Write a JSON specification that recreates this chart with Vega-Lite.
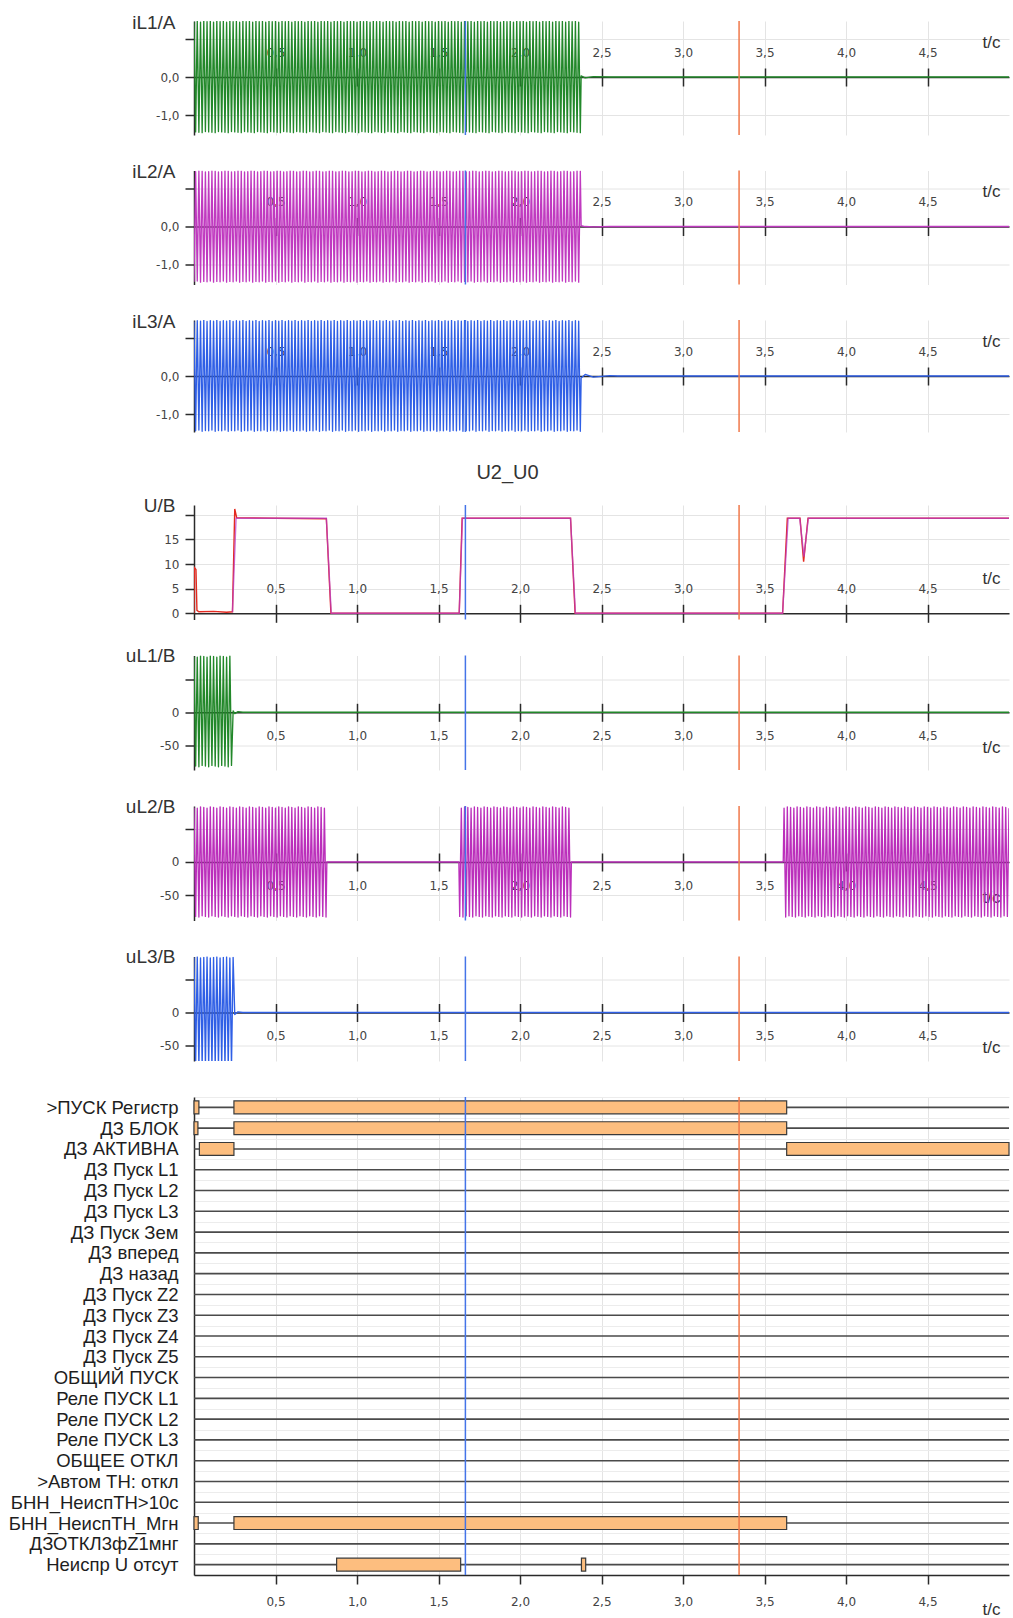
{
"$schema": "https://vega.github.io/schema/vega-lite/v6.json",
"padding": {"left": 8, "top": 13, "right": 4, "bottom": 5},
"bounds": "flush",
"spacing": 35.5,
"resolve": {"scale": {"x": "independent", "y": "independent"}},
"config": {
 "view": {"stroke": null},
 "font": "Liberation Sans",
 "axis": {"labelFont": "DejaVu Sans", "labelFontSize": 12, "labelColor": "#444", "titleFont": "Liberation Sans", "titleFontSize": 17, "titleFontWeight": "normal", "titleColor": "#333", "gridColor": "#e4e4e4", "gridWidth": 1, "domainColor": "#2a2a2a", "tickColor": "#2a2a2a", "domainWidth": 1.5, "tickWidth": 1.5, "labelOverlap": false, "labelBound": false, "labelFlush": false},
 "title": {"font": "Liberation Sans", "fontSize": 20, "fontWeight": "normal", "color": "#333"}
},
"datasets": {
 "cursors": [{"c": "T1", "t": 1.665}, {"c": "T2", "t": 3.344}],
 "sig": [{"s": ">ПУСК Регистр"}, {"s": "ДЗ БЛОК"}, {"s": "ДЗ АКТИВНА"}, {"s": "ДЗ Пуск L1"}, {"s": "ДЗ Пуск L2"}, {"s": "ДЗ Пуск L3"}, {"s": "ДЗ Пуск Зем"}, {"s": "ДЗ вперед"}, {"s": "ДЗ назад"}, {"s": "ДЗ Пуск Z2"}, {"s": "ДЗ Пуск Z3"}, {"s": "ДЗ Пуск Z4"}, {"s": "ДЗ Пуск Z5"}, {"s": "ОБЩИЙ ПУСК"}, {"s": "Реле ПУСК L1"}, {"s": "Реле ПУСК L2"}, {"s": "Реле ПУСК L3"}, {"s": "ОБЩЕЕ ОТКЛ"}, {"s": ">Автом ТН: откл"}, {"s": "БНН_НеиспТН>10с"}, {"s": "БНН_НеиспТН_Мгн"}, {"s": "ДЗОТКЛ3фZ1мнг"}, {"s": "Неиспр U отсут"}],
 "act": [{"s": ">ПУСК Регистр", "t0": 0, "t1": 0.03}, {"s": ">ПУСК Регистр", "t0": 0.245, "t1": 3.636}, {"s": "ДЗ БЛОК", "t0": 0, "t1": 0.024}, {"s": "ДЗ БЛОК", "t0": 0.245, "t1": 3.636}, {"s": "ДЗ АКТИВНА", "t0": 0.033, "t1": 0.245}, {"s": "ДЗ АКТИВНА", "t0": 3.636, "t1": 5}, {"s": "БНН_НеиспТН_Мгн", "t0": 0, "t1": 0.026}, {"s": "БНН_НеиспТН_Мгн", "t0": 0.245, "t1": 3.636}, {"s": "Неиспр U отсут", "t0": 0.875, "t1": 1.636}, {"s": "Неиспр U отсут", "t0": 2.377, "t1": 2.403}],
 "uu2": [{"t":0,"v":0},{"t":0.002,"v":9.3},{"t":0.012,"v":8.9},{"t":0.018,"v":0.6},{"t":0.03,"v":0.3},{"t":0.12,"v":0.4},{"t":0.2,"v":0.2},{"t":0.236,"v":0.3},{"t":0.25,"v":21.2},{"t":0.262,"v":19.4},{"t":0.5,"v":19.3},{"t":0.812,"v":19.2},{"t":0.84,"v":0},{"t":1.627,"v":0},{"t":1.645,"v":19.3},{"t":2.31,"v":19.3},{"t":2.338,"v":0},{"t":3.611,"v":0},{"t":3.64,"v":19.3},{"t":3.718,"v":19.3},{"t":3.74,"v":10.5},{"t":3.767,"v":19.3},{"t":5,"v":19.3}],
 "uu0": [{"t":0.236,"v":0.2},{"t":0.258,"v":19.3},{"t":0.812,"v":19.3},{"t":0.842,"v":0},{"t":1.627,"v":0},{"t":1.647,"v":19.3},{"t":2.31,"v":19.3},{"t":2.34,"v":0},{"t":3.611,"v":0},{"t":3.645,"v":19.3},{"t":3.716,"v":19.3},{"t":3.742,"v":11.5},{"t":3.769,"v":19.3},{"t":5,"v":19.3}],
 "ul13": [{"t":0.00,"a":84,"c":83},{"t":0.01,"a":-81,"c":-80},{"t":0.02,"a":83,"c":84},{"t":0.03,"a":-82,"c":-81},{"t":0.04,"a":85,"c":82},{"t":0.05,"a":-80,"c":-80},{"t":0.06,"a":84,"c":83},{"t":0.07,"a":-81,"c":-81},{"t":0.08,"a":83,"c":84},{"t":0.09,"a":-82,"c":-80},{"t":0.10,"a":85,"c":82},{"t":0.11,"a":-80,"c":-81},{"t":0.12,"a":84,"c":83},{"t":0.13,"a":-81,"c":-80},{"t":0.14,"a":83,"c":84},{"t":0.15,"a":-82,"c":-81},{"t":0.16,"a":85,"c":82},{"t":0.17,"a":-80,"c":-80},{"t":0.18,"a":84,"c":83},{"t":0.19,"a":-81,"c":-81},{"t":0.20,"a":83,"c":84},{"t":0.21,"a":-82,"c":-80},{"t":0.22,"a":85,"c":82},{"t":0.23,"a":-80,"c":-81},{"t":0.24,"a":2,"c":83},{"t":0.25,"a":-2,"c":-3},{"t":0.27,"a":1,"c":1},{"t":0.30,"a":0,"c":0},{"t":5,"a":0,"c":0}],
 "ul2": [{"t":0.00,"v":82},{"t":0.01,"v":-82},{"t":0.02,"v":81},{"t":0.03,"v":-83},{"t":0.04,"v":83},{"t":0.05,"v":-81},{"t":0.06,"v":82},{"t":0.07,"v":-82},{"t":0.08,"v":81},{"t":0.09,"v":-83},{"t":0.10,"v":83},{"t":0.11,"v":-81},{"t":0.12,"v":82},{"t":0.13,"v":-82},{"t":0.14,"v":81},{"t":0.15,"v":-83},{"t":0.16,"v":83},{"t":0.17,"v":-81},{"t":0.18,"v":82},{"t":0.19,"v":-82},{"t":0.20,"v":81},{"t":0.21,"v":-83},{"t":0.22,"v":83},{"t":0.23,"v":-81},{"t":0.24,"v":82},{"t":0.25,"v":-82},{"t":0.26,"v":81},{"t":0.27,"v":-83},{"t":0.28,"v":83},{"t":0.29,"v":-81},{"t":0.30,"v":82},{"t":0.31,"v":-82},{"t":0.32,"v":81},{"t":0.33,"v":-83},{"t":0.34,"v":83},{"t":0.35,"v":-81},{"t":0.36,"v":82},{"t":0.37,"v":-82},{"t":0.38,"v":81},{"t":0.39,"v":-83},{"t":0.40,"v":83},{"t":0.41,"v":-81},{"t":0.42,"v":82},{"t":0.43,"v":-82},{"t":0.44,"v":81},{"t":0.45,"v":-83},{"t":0.46,"v":83},{"t":0.47,"v":-81},{"t":0.48,"v":82},{"t":0.49,"v":-82},{"t":0.50,"v":81},{"t":0.51,"v":-83},{"t":0.52,"v":83},{"t":0.53,"v":-81},{"t":0.54,"v":82},{"t":0.55,"v":-82},{"t":0.56,"v":81},{"t":0.57,"v":-83},{"t":0.58,"v":83},{"t":0.59,"v":-81},{"t":0.60,"v":82},{"t":0.61,"v":-82},{"t":0.62,"v":81},{"t":0.63,"v":-83},{"t":0.64,"v":83},{"t":0.65,"v":-81},{"t":0.66,"v":82},{"t":0.67,"v":-82},{"t":0.68,"v":81},{"t":0.69,"v":-83},{"t":0.70,"v":83},{"t":0.71,"v":-81},{"t":0.72,"v":82},{"t":0.73,"v":-82},{"t":0.74,"v":81},{"t":0.75,"v":-83},{"t":0.76,"v":83},{"t":0.77,"v":-81},{"t":0.78,"v":82},{"t":0.79,"v":-82},{"t":0.80,"v":81},{"t":0.81,"v":-83},{"t":0.815,"v":0},{"t":1.625,"v":0},
 {"t":1.63,"v":-82},{"t":1.64,"v":81},{"t":1.65,"v":-83},{"t":1.66,"v":83},{"t":1.67,"v":-81},{"t":1.68,"v":82},{"t":1.69,"v":-82},{"t":1.70,"v":81},{"t":1.71,"v":-83},{"t":1.72,"v":83},{"t":1.73,"v":-81},{"t":1.74,"v":82},{"t":1.75,"v":-82},{"t":1.76,"v":81},{"t":1.77,"v":-83},{"t":1.78,"v":83},{"t":1.79,"v":-81},{"t":1.80,"v":82},{"t":1.81,"v":-82},{"t":1.82,"v":81},{"t":1.83,"v":-83},{"t":1.84,"v":83},{"t":1.85,"v":-81},{"t":1.86,"v":82},{"t":1.87,"v":-82},{"t":1.88,"v":81},{"t":1.89,"v":-83},{"t":1.90,"v":83},{"t":1.91,"v":-81},{"t":1.92,"v":82},{"t":1.93,"v":-82},{"t":1.94,"v":81},{"t":1.95,"v":-83},{"t":1.96,"v":83},{"t":1.97,"v":-81},{"t":1.98,"v":82},{"t":1.99,"v":-82},{"t":2.00,"v":81},{"t":2.01,"v":-83},{"t":2.02,"v":83},{"t":2.03,"v":-81},{"t":2.04,"v":82},{"t":2.05,"v":-82},{"t":2.06,"v":81},{"t":2.07,"v":-83},{"t":2.08,"v":83},{"t":2.09,"v":-81},{"t":2.10,"v":82},{"t":2.11,"v":-82},{"t":2.12,"v":81},{"t":2.13,"v":-83},{"t":2.14,"v":83},{"t":2.15,"v":-81},{"t":2.16,"v":82},{"t":2.17,"v":-82},{"t":2.18,"v":81},{"t":2.19,"v":-83},{"t":2.20,"v":83},{"t":2.21,"v":-81},{"t":2.22,"v":82},{"t":2.23,"v":-82},{"t":2.24,"v":81},{"t":2.25,"v":-83},{"t":2.26,"v":83},{"t":2.27,"v":-81},{"t":2.28,"v":82},{"t":2.29,"v":-82},{"t":2.30,"v":81},{"t":2.31,"v":-83},{"t":2.315,"v":0},{"t":3.615,"v":0},
 {"t":3.62,"v":81},{"t":3.63,"v":-83},{"t":3.64,"v":83},{"t":3.65,"v":-81},{"t":3.66,"v":82},{"t":3.67,"v":-82},{"t":3.68,"v":81},{"t":3.69,"v":-83},{"t":3.70,"v":83},{"t":3.71,"v":-81},{"t":3.72,"v":82},{"t":3.73,"v":-82},{"t":3.74,"v":81},{"t":3.75,"v":-83},{"t":3.76,"v":83},{"t":3.77,"v":-81},{"t":3.78,"v":82},{"t":3.79,"v":-82},{"t":3.80,"v":81},{"t":3.81,"v":-83},{"t":3.82,"v":83},{"t":3.83,"v":-81},{"t":3.84,"v":82},{"t":3.85,"v":-82},{"t":3.86,"v":81},{"t":3.87,"v":-83},{"t":3.88,"v":83},{"t":3.89,"v":-81},{"t":3.90,"v":82},{"t":3.91,"v":-82},{"t":3.92,"v":81},{"t":3.93,"v":-83},{"t":3.94,"v":83},{"t":3.95,"v":-81},{"t":3.96,"v":82},{"t":3.97,"v":-82},{"t":3.98,"v":81},{"t":3.99,"v":-83},{"t":4.00,"v":83},{"t":4.01,"v":-81},{"t":4.02,"v":82},{"t":4.03,"v":-82},{"t":4.04,"v":81},{"t":4.05,"v":-83},{"t":4.06,"v":83},{"t":4.07,"v":-81},{"t":4.08,"v":82},{"t":4.09,"v":-82},{"t":4.10,"v":81},{"t":4.11,"v":-83},{"t":4.12,"v":83},{"t":4.13,"v":-81},{"t":4.14,"v":82},{"t":4.15,"v":-82},{"t":4.16,"v":81},{"t":4.17,"v":-83},{"t":4.18,"v":83},{"t":4.19,"v":-81},{"t":4.20,"v":82},{"t":4.21,"v":-82},{"t":4.22,"v":81},{"t":4.23,"v":-83},{"t":4.24,"v":83},{"t":4.25,"v":-81},{"t":4.26,"v":82},{"t":4.27,"v":-82},{"t":4.28,"v":81},{"t":4.29,"v":-83},{"t":4.30,"v":83},{"t":4.31,"v":-81},{"t":4.32,"v":82},{"t":4.33,"v":-82},{"t":4.34,"v":81},{"t":4.35,"v":-83},{"t":4.36,"v":83},{"t":4.37,"v":-81},{"t":4.38,"v":82},{"t":4.39,"v":-82},{"t":4.40,"v":81},{"t":4.41,"v":-83},{"t":4.42,"v":83},{"t":4.43,"v":-81},{"t":4.44,"v":82},{"t":4.45,"v":-82},{"t":4.46,"v":81},{"t":4.47,"v":-83},{"t":4.48,"v":83},{"t":4.49,"v":-81},{"t":4.50,"v":82},{"t":4.51,"v":-82},{"t":4.52,"v":81},{"t":4.53,"v":-83},{"t":4.54,"v":83},{"t":4.55,"v":-81},{"t":4.56,"v":82},{"t":4.57,"v":-82},{"t":4.58,"v":81},{"t":4.59,"v":-83},{"t":4.60,"v":83},{"t":4.61,"v":-81},{"t":4.62,"v":82},{"t":4.63,"v":-82},{"t":4.64,"v":81},{"t":4.65,"v":-83},{"t":4.66,"v":83},{"t":4.67,"v":-81},{"t":4.68,"v":82},{"t":4.69,"v":-82},{"t":4.70,"v":81},{"t":4.71,"v":-83},{"t":4.72,"v":83},{"t":4.73,"v":-81},{"t":4.74,"v":82},{"t":4.75,"v":-82},{"t":4.76,"v":81},{"t":4.77,"v":-83},{"t":4.78,"v":83},{"t":4.79,"v":-81},{"t":4.80,"v":82},{"t":4.81,"v":-82},{"t":4.82,"v":81},{"t":4.83,"v":-83},{"t":4.84,"v":83},{"t":4.85,"v":-81},{"t":4.86,"v":82},{"t":4.87,"v":-82},{"t":4.88,"v":81},{"t":4.89,"v":-83},{"t":4.90,"v":83},{"t":4.91,"v":-81},{"t":4.92,"v":82},{"t":4.93,"v":-82},{"t":4.94,"v":81},{"t":4.95,"v":-83},{"t":4.96,"v":83},{"t":4.97,"v":-81},{"t":4.98,"v":82},{"t":4.99,"v":-82},{"t":5.00,"v":81}],
 "cur": [
{"t":0.00,"a":1.44,"b":-1.44,"c":1.42},{"t":0.01,"a":-1.43,"b":1.43,"c":-1.43},{"t":0.02,"a":1.45,"b":-1.42,"c":1.44},{"t":0.03,"a":-1.44,"b":1.45,"c":-1.41},{"t":0.04,"a":1.43,"b":-1.45,"c":1.43},{"t":0.05,"a":-1.45,"b":1.44,"c":-1.44},{"t":0.06,"a":1.46,"b":-1.43,"c":1.45},{"t":0.07,"a":-1.42,"b":1.42,"c":-1.42},
{"t":0.08,"a":1.44,"b":-1.44,"c":1.42},{"t":0.09,"a":-1.43,"b":1.43,"c":-1.43},{"t":0.10,"a":1.45,"b":-1.42,"c":1.44},{"t":0.11,"a":-1.44,"b":1.45,"c":-1.41},{"t":0.12,"a":1.43,"b":-1.45,"c":1.43},{"t":0.13,"a":-1.45,"b":1.44,"c":-1.44},{"t":0.14,"a":1.46,"b":-1.43,"c":1.45},{"t":0.15,"a":-1.42,"b":1.42,"c":-1.42},
{"t":0.16,"a":1.44,"b":-1.44,"c":1.42},{"t":0.17,"a":-1.43,"b":1.43,"c":-1.43},{"t":0.18,"a":1.45,"b":-1.42,"c":1.44},{"t":0.19,"a":-1.44,"b":1.45,"c":-1.41},{"t":0.20,"a":1.43,"b":-1.45,"c":1.43},{"t":0.21,"a":-1.45,"b":1.44,"c":-1.44},{"t":0.22,"a":1.46,"b":-1.43,"c":1.45},{"t":0.23,"a":-1.42,"b":1.42,"c":-1.42},
{"t":0.24,"a":1.44,"b":-1.44,"c":1.42},{"t":0.25,"a":-1.43,"b":1.43,"c":-1.43},{"t":0.26,"a":1.45,"b":-1.42,"c":1.44},{"t":0.27,"a":-1.44,"b":1.45,"c":-1.41},{"t":0.28,"a":1.43,"b":-1.45,"c":1.43},{"t":0.29,"a":-1.45,"b":1.44,"c":-1.44},{"t":0.30,"a":1.46,"b":-1.43,"c":1.45},{"t":0.31,"a":-1.42,"b":1.42,"c":-1.42},
{"t":0.32,"a":1.44,"b":-1.44,"c":1.42},{"t":0.33,"a":-1.43,"b":1.43,"c":-1.43},{"t":0.34,"a":1.45,"b":-1.42,"c":1.44},{"t":0.35,"a":-1.44,"b":1.45,"c":-1.41},{"t":0.36,"a":1.43,"b":-1.45,"c":1.43},{"t":0.37,"a":-1.45,"b":1.44,"c":-1.44},{"t":0.38,"a":1.46,"b":-1.43,"c":1.45},{"t":0.39,"a":-1.42,"b":1.42,"c":-1.42},
{"t":0.40,"a":1.44,"b":-1.44,"c":1.42},{"t":0.41,"a":-1.43,"b":1.43,"c":-1.43},{"t":0.42,"a":1.45,"b":-1.42,"c":1.44},{"t":0.43,"a":-1.44,"b":1.45,"c":-1.41},{"t":0.44,"a":1.43,"b":-1.45,"c":1.43},{"t":0.45,"a":-1.45,"b":1.44,"c":-1.44},{"t":0.46,"a":1.46,"b":-1.43,"c":1.45},{"t":0.47,"a":-1.42,"b":1.42,"c":-1.42},
{"t":0.48,"a":1.44,"b":-1.44,"c":1.42},{"t":0.49,"a":-1.43,"b":1.43,"c":-1.43},{"t":0.50,"a":1.45,"b":-1.42,"c":1.44},{"t":0.51,"a":-1.44,"b":1.45,"c":-1.41},{"t":0.52,"a":1.43,"b":-1.45,"c":1.43},{"t":0.53,"a":-1.45,"b":1.44,"c":-1.44},{"t":0.54,"a":1.46,"b":-1.43,"c":1.45},{"t":0.55,"a":-1.42,"b":1.42,"c":-1.42},
{"t":0.56,"a":1.44,"b":-1.44,"c":1.42},{"t":0.57,"a":-1.43,"b":1.43,"c":-1.43},{"t":0.58,"a":1.45,"b":-1.42,"c":1.44},{"t":0.59,"a":-1.44,"b":1.45,"c":-1.41},{"t":0.60,"a":1.43,"b":-1.45,"c":1.43},{"t":0.61,"a":-1.45,"b":1.44,"c":-1.44},{"t":0.62,"a":1.46,"b":-1.43,"c":1.45},{"t":0.63,"a":-1.42,"b":1.42,"c":-1.42},
{"t":0.64,"a":1.44,"b":-1.44,"c":1.42},{"t":0.65,"a":-1.43,"b":1.43,"c":-1.43},{"t":0.66,"a":1.45,"b":-1.42,"c":1.44},{"t":0.67,"a":-1.44,"b":1.45,"c":-1.41},{"t":0.68,"a":1.43,"b":-1.45,"c":1.43},{"t":0.69,"a":-1.45,"b":1.44,"c":-1.44},{"t":0.70,"a":1.46,"b":-1.43,"c":1.45},{"t":0.71,"a":-1.42,"b":1.42,"c":-1.42},
{"t":0.72,"a":1.44,"b":-1.44,"c":1.42},{"t":0.73,"a":-1.43,"b":1.43,"c":-1.43},{"t":0.74,"a":1.45,"b":-1.42,"c":1.44},{"t":0.75,"a":-1.44,"b":1.45,"c":-1.41},{"t":0.76,"a":1.43,"b":-1.45,"c":1.43},{"t":0.77,"a":-1.45,"b":1.44,"c":-1.44},{"t":0.78,"a":1.46,"b":-1.43,"c":1.45},{"t":0.79,"a":-1.42,"b":1.42,"c":-1.42},
{"t":0.80,"a":1.44,"b":-1.44,"c":1.42},{"t":0.81,"a":-1.43,"b":1.43,"c":-1.43},{"t":0.82,"a":1.45,"b":-1.42,"c":1.44},{"t":0.83,"a":-1.44,"b":1.45,"c":-1.41},{"t":0.84,"a":1.43,"b":-1.45,"c":1.43},{"t":0.85,"a":-1.45,"b":1.44,"c":-1.44},{"t":0.86,"a":1.46,"b":-1.43,"c":1.45},{"t":0.87,"a":-1.42,"b":1.42,"c":-1.42},
{"t":0.88,"a":1.44,"b":-1.44,"c":1.42},{"t":0.89,"a":-1.43,"b":1.43,"c":-1.43},{"t":0.90,"a":1.45,"b":-1.42,"c":1.44},{"t":0.91,"a":-1.44,"b":1.45,"c":-1.41},{"t":0.92,"a":1.43,"b":-1.45,"c":1.43},{"t":0.93,"a":-1.45,"b":1.44,"c":-1.44},{"t":0.94,"a":1.46,"b":-1.43,"c":1.45},{"t":0.95,"a":-1.42,"b":1.42,"c":-1.42},
{"t":0.96,"a":1.44,"b":-1.44,"c":1.42},{"t":0.97,"a":-1.43,"b":1.43,"c":-1.43},{"t":0.98,"a":1.45,"b":-1.42,"c":1.44},{"t":0.99,"a":-1.44,"b":1.45,"c":-1.41},{"t":1.00,"a":1.43,"b":-1.45,"c":1.43},{"t":1.01,"a":-1.45,"b":1.44,"c":-1.44},{"t":1.02,"a":1.46,"b":-1.43,"c":1.45},{"t":1.03,"a":-1.42,"b":1.42,"c":-1.42},
{"t":1.04,"a":1.44,"b":-1.44,"c":1.42},{"t":1.05,"a":-1.43,"b":1.43,"c":-1.43},{"t":1.06,"a":1.45,"b":-1.42,"c":1.44},{"t":1.07,"a":-1.44,"b":1.45,"c":-1.41},{"t":1.08,"a":1.43,"b":-1.45,"c":1.43},{"t":1.09,"a":-1.45,"b":1.44,"c":-1.44},{"t":1.10,"a":1.46,"b":-1.43,"c":1.45},{"t":1.11,"a":-1.42,"b":1.42,"c":-1.42},
{"t":1.12,"a":1.44,"b":-1.44,"c":1.42},{"t":1.13,"a":-1.43,"b":1.43,"c":-1.43},{"t":1.14,"a":1.45,"b":-1.42,"c":1.44},{"t":1.15,"a":-1.44,"b":1.45,"c":-1.41},{"t":1.16,"a":1.43,"b":-1.45,"c":1.43},{"t":1.17,"a":-1.45,"b":1.44,"c":-1.44},{"t":1.18,"a":1.46,"b":-1.43,"c":1.45},{"t":1.19,"a":-1.42,"b":1.42,"c":-1.42},
{"t":1.20,"a":1.44,"b":-1.44,"c":1.42},{"t":1.21,"a":-1.43,"b":1.43,"c":-1.43},{"t":1.22,"a":1.45,"b":-1.42,"c":1.44},{"t":1.23,"a":-1.44,"b":1.45,"c":-1.41},{"t":1.24,"a":1.43,"b":-1.45,"c":1.43},{"t":1.25,"a":-1.45,"b":1.44,"c":-1.44},{"t":1.26,"a":1.46,"b":-1.43,"c":1.45},{"t":1.27,"a":-1.42,"b":1.42,"c":-1.42},
{"t":1.28,"a":1.44,"b":-1.44,"c":1.42},{"t":1.29,"a":-1.43,"b":1.43,"c":-1.43},{"t":1.30,"a":1.45,"b":-1.42,"c":1.44},{"t":1.31,"a":-1.44,"b":1.45,"c":-1.41},{"t":1.32,"a":1.43,"b":-1.45,"c":1.43},{"t":1.33,"a":-1.45,"b":1.44,"c":-1.44},{"t":1.34,"a":1.46,"b":-1.43,"c":1.45},{"t":1.35,"a":-1.42,"b":1.42,"c":-1.42},
{"t":1.36,"a":1.44,"b":-1.44,"c":1.42},{"t":1.37,"a":-1.43,"b":1.43,"c":-1.43},{"t":1.38,"a":1.45,"b":-1.42,"c":1.44},{"t":1.39,"a":-1.44,"b":1.45,"c":-1.41},{"t":1.40,"a":1.43,"b":-1.45,"c":1.43},{"t":1.41,"a":-1.45,"b":1.44,"c":-1.44},{"t":1.42,"a":1.46,"b":-1.43,"c":1.45},{"t":1.43,"a":-1.42,"b":1.42,"c":-1.42},
{"t":1.44,"a":1.44,"b":-1.44,"c":1.42},{"t":1.45,"a":-1.43,"b":1.43,"c":-1.43},{"t":1.46,"a":1.45,"b":-1.42,"c":1.44},{"t":1.47,"a":-1.44,"b":1.45,"c":-1.41},{"t":1.48,"a":1.43,"b":-1.45,"c":1.43},{"t":1.49,"a":-1.45,"b":1.44,"c":-1.44},{"t":1.50,"a":1.46,"b":-1.43,"c":1.45},{"t":1.51,"a":-1.42,"b":1.42,"c":-1.42},
{"t":1.52,"a":1.44,"b":-1.44,"c":1.42},{"t":1.53,"a":-1.43,"b":1.43,"c":-1.43},{"t":1.54,"a":1.45,"b":-1.42,"c":1.44},{"t":1.55,"a":-1.44,"b":1.45,"c":-1.41},{"t":1.56,"a":1.43,"b":-1.45,"c":1.43},{"t":1.57,"a":-1.45,"b":1.44,"c":-1.44},{"t":1.58,"a":1.46,"b":-1.43,"c":1.45},{"t":1.59,"a":-1.42,"b":1.42,"c":-1.42},
{"t":1.60,"a":1.44,"b":-1.44,"c":1.42},{"t":1.61,"a":-1.43,"b":1.43,"c":-1.43},{"t":1.62,"a":1.45,"b":-1.42,"c":1.44},{"t":1.63,"a":-1.44,"b":1.45,"c":-1.41},{"t":1.64,"a":1.43,"b":-1.45,"c":1.43},{"t":1.65,"a":-1.45,"b":1.44,"c":-1.44},{"t":1.66,"a":1.46,"b":-1.43,"c":1.45},{"t":1.67,"a":-1.42,"b":1.42,"c":-1.42},
{"t":1.68,"a":1.44,"b":-1.44,"c":1.42},{"t":1.69,"a":-1.43,"b":1.43,"c":-1.43},{"t":1.70,"a":1.45,"b":-1.42,"c":1.44},{"t":1.71,"a":-1.44,"b":1.45,"c":-1.41},{"t":1.72,"a":1.43,"b":-1.45,"c":1.43},{"t":1.73,"a":-1.45,"b":1.44,"c":-1.44},{"t":1.74,"a":1.46,"b":-1.43,"c":1.45},{"t":1.75,"a":-1.42,"b":1.42,"c":-1.42},
{"t":1.76,"a":1.44,"b":-1.44,"c":1.42},{"t":1.77,"a":-1.43,"b":1.43,"c":-1.43},{"t":1.78,"a":1.45,"b":-1.42,"c":1.44},{"t":1.79,"a":-1.44,"b":1.45,"c":-1.41},{"t":1.80,"a":1.43,"b":-1.45,"c":1.43},{"t":1.81,"a":-1.45,"b":1.44,"c":-1.44},{"t":1.82,"a":1.46,"b":-1.43,"c":1.45},{"t":1.83,"a":-1.42,"b":1.42,"c":-1.42},
{"t":1.84,"a":1.44,"b":-1.44,"c":1.42},{"t":1.85,"a":-1.43,"b":1.43,"c":-1.43},{"t":1.86,"a":1.45,"b":-1.42,"c":1.44},{"t":1.87,"a":-1.44,"b":1.45,"c":-1.41},{"t":1.88,"a":1.43,"b":-1.45,"c":1.43},{"t":1.89,"a":-1.45,"b":1.44,"c":-1.44},{"t":1.90,"a":1.46,"b":-1.43,"c":1.45},{"t":1.91,"a":-1.42,"b":1.42,"c":-1.42},
{"t":1.92,"a":1.44,"b":-1.44,"c":1.42},{"t":1.93,"a":-1.43,"b":1.43,"c":-1.43},{"t":1.94,"a":1.45,"b":-1.42,"c":1.44},{"t":1.95,"a":-1.44,"b":1.45,"c":-1.41},{"t":1.96,"a":1.43,"b":-1.45,"c":1.43},{"t":1.97,"a":-1.45,"b":1.44,"c":-1.44},{"t":1.98,"a":1.46,"b":-1.43,"c":1.45},{"t":1.99,"a":-1.42,"b":1.42,"c":-1.42},
{"t":2.00,"a":1.44,"b":-1.44,"c":1.42},{"t":2.01,"a":-1.43,"b":1.43,"c":-1.43},{"t":2.02,"a":1.45,"b":-1.42,"c":1.44},{"t":2.03,"a":-1.44,"b":1.45,"c":-1.41},{"t":2.04,"a":1.43,"b":-1.45,"c":1.43},{"t":2.05,"a":-1.45,"b":1.44,"c":-1.44},{"t":2.06,"a":1.46,"b":-1.43,"c":1.45},{"t":2.07,"a":-1.42,"b":1.42,"c":-1.42},
{"t":2.08,"a":1.44,"b":-1.44,"c":1.42},{"t":2.09,"a":-1.43,"b":1.43,"c":-1.43},{"t":2.10,"a":1.45,"b":-1.42,"c":1.44},{"t":2.11,"a":-1.44,"b":1.45,"c":-1.41},{"t":2.12,"a":1.43,"b":-1.45,"c":1.43},{"t":2.13,"a":-1.45,"b":1.44,"c":-1.44},{"t":2.14,"a":1.46,"b":-1.43,"c":1.45},{"t":2.15,"a":-1.42,"b":1.42,"c":-1.42},
{"t":2.16,"a":1.44,"b":-1.44,"c":1.42},{"t":2.17,"a":-1.43,"b":1.43,"c":-1.43},{"t":2.18,"a":1.45,"b":-1.42,"c":1.44},{"t":2.19,"a":-1.44,"b":1.45,"c":-1.41},{"t":2.20,"a":1.43,"b":-1.45,"c":1.43},{"t":2.21,"a":-1.45,"b":1.44,"c":-1.44},{"t":2.22,"a":1.46,"b":-1.43,"c":1.45},{"t":2.23,"a":-1.42,"b":1.42,"c":-1.42},
{"t":2.24,"a":1.44,"b":-1.44,"c":1.42},{"t":2.25,"a":-1.43,"b":1.43,"c":-1.43},{"t":2.26,"a":1.45,"b":-1.42,"c":1.44},{"t":2.27,"a":-1.44,"b":1.45,"c":-1.41},{"t":2.28,"a":1.43,"b":-1.45,"c":1.43},{"t":2.29,"a":-1.45,"b":1.44,"c":-1.44},{"t":2.30,"a":1.46,"b":-1.43,"c":1.45},{"t":2.31,"a":-1.42,"b":1.42,"c":-1.42},
{"t":2.32,"a":1.44,"b":-1.44,"c":1.42},{"t":2.33,"a":-1.43,"b":1.43,"c":-1.43},{"t":2.34,"a":1.45,"b":-1.42,"c":1.44},{"t":2.35,"a":-1.44,"b":1.45,"c":-1.41},{"t":2.36,"a":1.43,"b":-1.45,"c":1.43},{"t":2.37,"a":-1.45,"b":1.44,"c":-1.44},
{"t":2.375,"a":0.03,"b":0.02,"c":-0.05},{"t":2.40,"a":-0.02,"b":0,"c":0.04},{"t":2.45,"a":0.01,"b":-0.01,"c":-0.03},{"t":2.55,"a":0,"b":0,"c":0.01},{"t":2.60,"a":0,"b":0,"c":0},{"t":5,"a":0,"b":0,"c":0}]
},
"vconcat": [
  {"width": 815, "height": 114,
   "layer": [
    {"data": {"name": "cur"}, "mark": {"type": "line", "color": "#22882a", "strokeWidth": 1.35, "strokeJoin": "round", "clip": true},
     "encoding": {
      "x": {"field": "t", "type": "quantitative", "scale": {"domain": [0, 5], "nice": false, "zero": false},
       "axis": {"orient": "top", "offset": -56, "values": [0.5,1,1.5,2,2.5,3,3.5,4,4.5], "tickSize": 9, "labelPadding": 9, "labelExpr": "replace(format(datum.value,'.1f'),'.',',')", "grid": true, "title": "t/c", "titleX": 806, "titleY": -35, "titleAlign": "right", "titleBaseline": "middle", "titleAngle": 0}},
      "y": {"field": "a", "type": "quantitative", "scale": {"domain": [-1.51, 1.46], "nice": false, "zero": false},
       "axis": {"values": [-1, 0, 1], "tickSize": 9, "labelPadding": 6, "labelExpr": "datum.value > 0.5 ? '' : replace(replace(format(datum.value,'.1f'),'.',','),'\u2212','-')", "grid": true, "title": "iL1/A", "titleFontSize": 19, "titleAngle": 0, "titleX": -19, "titleY": 1, "titleAlign": "right", "titleBaseline": "middle"}}
     }},
    {"data": {"name": "cursors"}, "mark": {"type": "rule", "strokeWidth": 1.5},
     "encoding": {
      "x": {"field": "t", "type": "quantitative", "axis": {"orient": "bottom", "offset": -58, "values": [0.5,1,1.5,2,2.5,3,3.5,4,4.5], "tickSize": 9, "labels": false, "domain": false, "grid": false, "title": null}},
      "color": {"field": "c", "type": "nominal", "scale": {"domain": ["T1", "T2"], "range": ["#4474e8", "#f0784a"]}, "legend": null}
     }}
   ],
   "resolve": {"axis": {"x": "independent"}}
  },
  {"width": 815, "height": 114,
   "layer": [
    {"data": {"name": "cur"}, "mark": {"type": "line", "color": "#c03ac0", "strokeWidth": 1.35, "strokeJoin": "round", "clip": true},
     "encoding": {
      "x": {"field": "t", "type": "quantitative", "scale": {"domain": [0, 5], "nice": false, "zero": false},
       "axis": {"orient": "top", "offset": -56, "values": [0.5,1,1.5,2,2.5,3,3.5,4,4.5], "tickSize": 9, "labelPadding": 9, "labelExpr": "replace(format(datum.value,'.1f'),'.',',')", "grid": true, "title": "t/c", "titleX": 806, "titleY": -35, "titleAlign": "right", "titleBaseline": "middle", "titleAngle": 0}},
      "y": {"field": "b", "type": "quantitative", "scale": {"domain": [-1.51, 1.46], "nice": false, "zero": false},
       "axis": {"values": [-1, 0, 1], "tickSize": 9, "labelPadding": 6, "labelExpr": "datum.value > 0.5 ? '' : replace(replace(format(datum.value,'.1f'),'.',','),'\u2212','-')", "grid": true, "title": "iL2/A", "titleFontSize": 19, "titleAngle": 0, "titleX": -19, "titleY": 1, "titleAlign": "right", "titleBaseline": "middle"}}
     }},
    {"data": {"name": "cursors"}, "mark": {"type": "rule", "strokeWidth": 1.5},
     "encoding": {
      "x": {"field": "t", "type": "quantitative", "axis": {"orient": "bottom", "offset": -58, "values": [0.5,1,1.5,2,2.5,3,3.5,4,4.5], "tickSize": 9, "labels": false, "domain": false, "grid": false, "title": null}},
      "color": {"field": "c", "type": "nominal", "scale": {"domain": ["T1", "T2"], "range": ["#4474e8", "#f0784a"]}, "legend": null}
     }}
   ],
   "resolve": {"axis": {"x": "independent"}}
  },
  {"width": 815, "height": 112,
   "layer": [
    {"data": {"name": "cur"}, "mark": {"type": "line", "color": "#2f5fe6", "strokeWidth": 1.35, "strokeJoin": "round", "clip": true},
     "encoding": {
      "x": {"field": "t", "type": "quantitative", "scale": {"domain": [0, 5], "nice": false, "zero": false},
       "axis": {"orient": "top", "offset": -56, "values": [0.5,1,1.5,2,2.5,3,3.5,4,4.5], "tickSize": 9, "labelPadding": 9, "labelExpr": "replace(format(datum.value,'.1f'),'.',',')", "grid": true, "title": "t/c", "titleX": 806, "titleY": -35, "titleAlign": "right", "titleBaseline": "middle", "titleAngle": 0}},
      "y": {"field": "c", "type": "quantitative", "scale": {"domain": [-1.46, 1.46], "nice": false, "zero": false},
       "axis": {"values": [-1, 0, 1], "tickSize": 9, "labelPadding": 6, "labelExpr": "datum.value > 0.5 ? '' : replace(replace(format(datum.value,'.1f'),'.',','),'\u2212','-')", "grid": true, "title": "iL3/A", "titleFontSize": 19, "titleAngle": 0, "titleX": -19, "titleY": 1, "titleAlign": "right", "titleBaseline": "middle"}}
     }},
    {"data": {"name": "cursors"}, "mark": {"type": "rule", "strokeWidth": 1.5},
     "encoding": {
      "x": {"field": "t", "type": "quantitative", "axis": {"orient": "bottom", "offset": -56, "values": [0.5,1,1.5,2,2.5,3,3.5,4,4.5], "tickSize": 9, "labels": false, "domain": false, "grid": false, "title": null}},
      "color": {"field": "c", "type": "nominal", "scale": {"domain": ["T1", "T2"], "range": ["#4474e8", "#f0784a"]}, "legend": null}
     }}
   ],
   "resolve": {"axis": {"x": "independent"}}
  },
  {"width": 815, "height": 2,
   "title": {"text": "U2_U0", "frame": "group", "anchor": "middle", "offset": -5, "baseline": "middle", "dx": -94, "dy": 20.5},
   "data": {"values": []},
   "mark": "point",
   "encoding": {}
  },
  {"width": 815, "height": 114.5,
   "layer": [
    {"data": {"name": "uu2"}, "mark": {"type": "line", "color": "#e42a20", "strokeWidth": 1.4, "clip": true},
     "encoding": {
      "x": {"field": "t", "type": "quantitative", "scale": {"domain": [0, 5], "nice": false, "zero": false},
       "axis": {"orient": "top", "offset": -108.3, "values": [0.5,1,1.5,2,2.5,3,3.5,4,4.5], "tickSize": 9, "labelPadding": 9, "labelExpr": "replace(format(datum.value,'.1f'),'.',',')", "grid": true, "title": "t/c", "titleX": 806, "titleY": -35, "titleAlign": "right", "titleBaseline": "middle", "titleAngle": 0}},
      "y": {"field": "v", "type": "quantitative", "scale": {"domain": [-1.26, 22], "nice": false, "zero": false},
       "axis": {"values": [0, 5, 10, 15, 20], "tickSize": 9, "labelPadding": 6, "labelExpr": "datum.value > 17 ? '' : datum.label", "grid": true, "title": "U/B", "titleFontSize": 19, "titleAngle": 0, "titleX": -19, "titleY": 0, "titleAlign": "right", "titleBaseline": "middle"}}
     }},
    {"data": {"name": "uu0"}, "mark": {"type": "line", "color": "#b83cc8", "strokeWidth": 1.4, "opacity": 0.75, "clip": true},
     "encoding": {
      "x": {"field": "t", "type": "quantitative", "axis": null},
      "y": {"field": "v", "type": "quantitative",
       "axis": {"values": [0, 5, 10, 15, 20], "tickSize": 9, "labelPadding": 6, "labelExpr": "datum.value > 17 ? '' : datum.label", "grid": true, "title": "U/B", "titleFontSize": 19, "titleAngle": 0, "titleX": -19, "titleY": 0, "titleAlign": "right", "titleBaseline": "middle"}}
     }},
    {"data": {"name": "cursors"}, "mark": {"type": "rule", "strokeWidth": 1.5},
     "encoding": {
      "x": {"field": "t", "type": "quantitative", "axis": {"orient": "bottom", "offset": -6.2, "values": [0.5,1,1.5,2,2.5,3,3.5,4,4.5], "tickSize": 9, "labels": false, "domain": false, "grid": false, "title": null}},
      "color": {"field": "c", "type": "nominal", "scale": {"domain": ["T1", "T2"], "range": ["#4474e8", "#f0784a"]}, "legend": null}
     }}
   ],
   "resolve": {"axis": {"x": "independent"}}
  },
  {"width": 815, "height": 114.5,
   "layer": [
    {"data": {"name": "ul13"}, "mark": {"type": "line", "color": "#22882a", "strokeWidth": 1.35, "strokeJoin": "round", "clip": true},
     "encoding": {
      "x": {"field": "t", "type": "quantitative", "scale": {"domain": [0, 5], "nice": false, "zero": false},
       "axis": {"orient": "bottom", "offset": -57.7, "values": [0.5,1,1.5,2,2.5,3,3.5,4,4.5], "tickSize": 9, "labelPadding": 9, "labelExpr": "replace(format(datum.value,'.1f'),'.',',')", "grid": true, "title": "t/c", "titleX": 806, "titleY": 35, "titleAlign": "right", "titleBaseline": "middle", "titleAngle": 0}},
      "y": {"field": "a", "type": "quantitative", "scale": {"domain": [-86.9, 85.5], "nice": false, "zero": false},
       "axis": {"values": [-50, 0, 50], "tickSize": 9, "labelPadding": 6, "labelExpr": "datum.value > 25 ? '' : replace(datum.label,'\u2212','-')", "grid": true, "title": "uL1/B", "titleFontSize": 19, "titleAngle": 0, "titleX": -19, "titleY": 0, "titleAlign": "right", "titleBaseline": "middle"}}
     }},
    {"data": {"name": "cursors"}, "mark": {"type": "rule", "strokeWidth": 1.5},
     "encoding": {
      "x": {"field": "t", "type": "quantitative", "axis": {"orient": "top", "offset": -56.8, "values": [0.5,1,1.5,2,2.5,3,3.5,4,4.5], "tickSize": 9, "labels": false, "domain": false, "grid": false, "title": null}},
      "color": {"field": "c", "type": "nominal", "scale": {"domain": ["T1", "T2"], "range": ["#4474e8", "#f0784a"]}, "legend": null}
     }}
   ],
   "resolve": {"axis": {"x": "independent"}}
  },
  {"width": 815, "height": 114.5,
   "layer": [
    {"data": {"name": "ul2"}, "mark": {"type": "line", "color": "#bb2fbb", "strokeWidth": 1.35, "strokeJoin": "round", "clip": true},
     "encoding": {
      "x": {"field": "t", "type": "quantitative", "scale": {"domain": [0, 5], "nice": false, "zero": false},
       "axis": {"orient": "bottom", "offset": -58.5, "values": [0.5,1,1.5,2,2.5,3,3.5,4,4.5], "tickSize": 9, "labelPadding": 9, "labelExpr": "replace(format(datum.value,'.1f'),'.',',')", "grid": true, "title": "t/c", "titleX": 806, "titleY": 35, "titleAlign": "right", "titleBaseline": "middle", "titleAngle": 0}},
      "y": {"field": "v", "type": "quantitative", "scale": {"domain": [-88.1, 84.3], "nice": false, "zero": false},
       "axis": {"values": [-50, 0, 50], "tickSize": 9, "labelPadding": 6, "labelExpr": "datum.value > 25 ? '' : replace(datum.label,'\u2212','-')", "grid": true, "title": "uL2/B", "titleFontSize": 19, "titleAngle": 0, "titleX": -19, "titleY": 0, "titleAlign": "right", "titleBaseline": "middle"}}
     }},
    {"data": {"name": "cursors"}, "mark": {"type": "rule", "strokeWidth": 1.5},
     "encoding": {
      "x": {"field": "t", "type": "quantitative", "axis": {"orient": "top", "offset": -56, "values": [0.5,1,1.5,2,2.5,3,3.5,4,4.5], "tickSize": 9, "labels": false, "domain": false, "grid": false, "title": null}},
      "color": {"field": "c", "type": "nominal", "scale": {"domain": ["T1", "T2"], "range": ["#4474e8", "#f0784a"]}, "legend": null}
     }}
   ],
   "resolve": {"axis": {"x": "independent"}}
  },
  {"width": 815, "height": 104.5,
   "layer": [
    {"data": {"name": "ul13"}, "mark": {"type": "line", "color": "#2f5fe6", "strokeWidth": 1.35, "strokeJoin": "round", "clip": true},
     "encoding": {
      "x": {"field": "t", "type": "quantitative", "scale": {"domain": [0, 5], "nice": false, "zero": false},
       "axis": {"orient": "bottom", "offset": -48.5, "values": [0.5,1,1.5,2,2.5,3,3.5,4,4.5], "tickSize": 9, "labelPadding": 9, "labelExpr": "replace(format(datum.value,'.1f'),'.',',')", "grid": true, "title": "t/c", "titleX": 806, "titleY": 35, "titleAlign": "right", "titleBaseline": "middle", "titleAngle": 0}},
      "y": {"field": "c", "type": "quantitative", "scale": {"domain": [-73, 84.3], "nice": false, "zero": false},
       "axis": {"values": [-50, 0, 50], "tickSize": 9, "labelPadding": 6, "labelExpr": "datum.value > 25 ? '' : replace(datum.label,'\u2212','-')", "grid": true, "title": "uL3/B", "titleFontSize": 19, "titleAngle": 0, "titleX": -19, "titleY": 0, "titleAlign": "right", "titleBaseline": "middle"}}
     }},
    {"data": {"name": "cursors"}, "mark": {"type": "rule", "strokeWidth": 1.5},
     "encoding": {
      "x": {"field": "t", "type": "quantitative", "axis": {"orient": "top", "offset": -56, "values": [0.5,1,1.5,2,2.5,3,3.5,4,4.5], "tickSize": 9, "labels": false, "domain": false, "grid": false, "title": null}},
      "color": {"field": "c", "type": "nominal", "scale": {"domain": ["T1", "T2"], "range": ["#4474e8", "#f0784a"]}, "legend": null}
     }}
   ],
   "resolve": {"axis": {"x": "independent"}}
  },
  {"width": 815, "height": 478,
   "layer": [
    {"data": {"name": "sig"}, "mark": {"type": "rule", "color": "#4a4a4a", "strokeWidth": 1.6},
     "encoding": {
      "x": {"datum": 0, "type": "quantitative", "scale": {"domain": [0, 5], "nice": false, "zero": false},
       "axis": {"orient": "bottom", "values": [0.5,1,1.5,2,2.5,3,3.5,4,4.5], "tickSize": 9, "labelPadding": 12, "labelExpr": "replace(format(datum.value,'.1f'),'.',',')", "grid": true, "title": "t/c", "titleX": 806, "titleY": 34, "titleAlign": "right", "titleBaseline": "middle", "titleAngle": 0}},
      "x2": {"datum": 5},
      "y": {"field": "s", "type": "nominal", "scale": {"domain": [">ПУСК Регистр", "ДЗ БЛОК", "ДЗ АКТИВНА", "ДЗ Пуск L1", "ДЗ Пуск L2", "ДЗ Пуск L3", "ДЗ Пуск Зем", "ДЗ вперед", "ДЗ назад", "ДЗ Пуск Z2", "ДЗ Пуск Z3", "ДЗ Пуск Z4", "ДЗ Пуск Z5", "ОБЩИЙ ПУСК", "Реле ПУСК L1", "Реле ПУСК L2", "Реле ПУСК L3", "ОБЩЕЕ ОТКЛ", ">Автом ТН: откл", "БНН_НеиспТН>10с", "БНН_НеиспТН_Мгн", "ДЗОТКЛ3фZ1мнг", "Неиспр U отсут"], "paddingInner": 0, "paddingOuter": 0},
       "axis": {"ticks": false, "labelPadding": 16, "labelFont": "Liberation Sans", "labelFontSize": 18.5, "labelColor": "#1e1e1e", "labelLimit": 400, "grid": true, "gridColor": "#ececec", "tickBand": "extent", "title": null}}
     }},
    {"data": {"name": "act"}, "mark": {"type": "bar", "fill": "#fdbe7f", "stroke": "#3a3a3a", "strokeWidth": 1.2, "height": {"band": 0.62}},
     "encoding": {
      "x": {"field": "t0", "type": "quantitative"},
      "x2": {"field": "t1"},
      "y": {"field": "s", "type": "nominal"}
     }},
    {"data": {"name": "cursors"}, "mark": {"type": "rule", "strokeWidth": 1.5},
     "encoding": {
      "x": {"field": "t", "type": "quantitative"},
      "color": {"field": "c", "type": "nominal", "scale": {"domain": ["T1", "T2"], "range": ["#4474e8", "#f0784a"]}, "legend": null}
     }}
   ]
  }
]
}
